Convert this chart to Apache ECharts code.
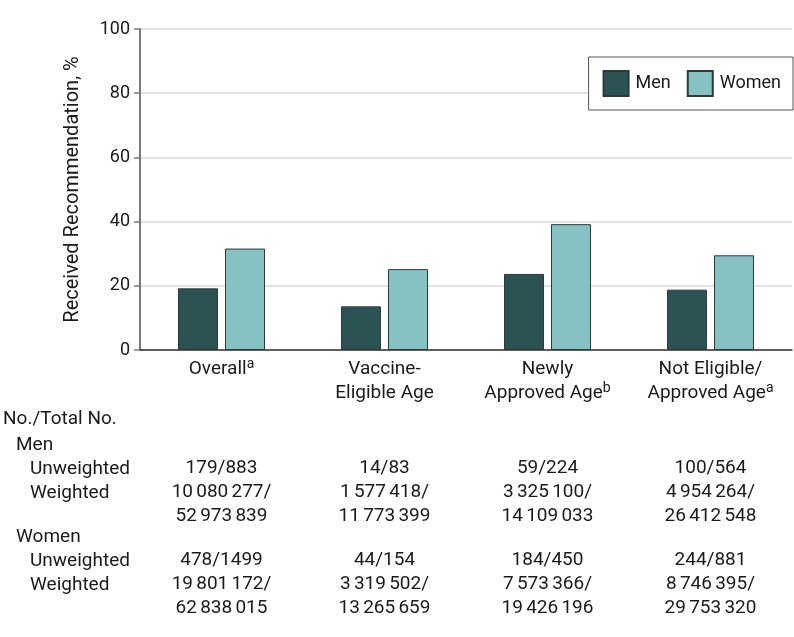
<!DOCTYPE html>
<html>
<head>
<meta charset="utf-8">
<script src="https://cdn.jsdelivr.net/npm/echarts@6/dist/echarts.min.js"></script>
<style>
html,body{margin:0;padding:0;background:#fff;}
#chart{width:794px;height:637px;}
</style>
</head>
<body>
<div id="chart"></div>
<script>
// ---- data ----
var catLine1 = ['Overall', 'Vaccine-', 'Newly', 'Not Eligible/'];
var catLine2 = ['', 'Eligible Age', 'Approved Age', 'Approved Age'];
var catNote = ['a', '', 'b', 'a'];
var seriesNames = ['Men', 'Women'];
var menValues = [19.2, 13.6, 23.7, 18.8];
var womenValues = [31.6, 25.2, 39.2, 29.5];
var yTicks = [0, 20, 40, 60, 80, 100];
var menUnweighted = ['179/883', '14/83', '59/224', '100/564'];
var menWeighted1 = ['10\u2006080\u2006277/', '1\u2006577\u2006418/', '3\u2006325\u2006100/', '4\u2006954\u2006264/'];
var menWeighted2 = ['52\u2006973\u2006839', '11\u2006773\u2006399', '14\u2006109\u2006033', '26\u2006412\u2006548'];
var womenUnweighted = ['478/1499', '44/154', '184/450', '244/881'];
var womenWeighted1 = ['19\u2006801\u2006172/', '3\u2006319\u2006502/', '7\u2006573\u2006366/', '8\u2006746\u2006395/'];
var womenWeighted2 = ['62\u2006838\u2006015', '13\u2006265\u2006659', '19\u2006426\u2006196', '29\u2006753\u2006320'];
var rowHeaders = ['No./Total No.', 'Men', 'Unweighted', 'Weighted', 'Women', 'Unweighted', 'Weighted'];

var FONT = 'Roboto';
var TXT = '#1a1a1a';
var categories = catLine1.map(function (s, i) { return s + ' ' + catLine2[i]; });

function colLabel(value, i) {
  var l1 = '{c|' + catLine1[i] + '}';
  var l2;
  if (catLine2[i] === '') {
    l1 += catNote[i] ? '{s|' + catNote[i] + '}' : '';
    l2 = '{c| }';
  } else {
    l2 = '{c|' + catLine2[i] + '}' + (catNote[i] ? '{s|' + catNote[i] + '}' : '');
  }
  return [l1, l2, '{g1| }',
    '{v|' + menUnweighted[i] + '}', '{v|' + menWeighted1[i] + '}', '{v|' + menWeighted2[i] + '}',
    '{g2| }',
    '{v|' + womenUnweighted[i] + '}', '{v|' + womenWeighted1[i] + '}', '{v|' + womenWeighted2[i] + '}'
  ].join('\n');
}

var leftText = ['{b| }', '{b| }', '{h0|' + rowHeaders[0] + '}', '{h1|' + rowHeaders[1] + '}',
  '{h2|' + rowHeaders[2] + '}', '{h2|' + rowHeaders[3] + '}', '{gw| }',
  '{h1|' + rowHeaders[4] + '}', '{h2|' + rowHeaders[5] + '}', '{h2|' + rowHeaders[6] + '}'].join('\n');

var chart = echarts.init(document.getElementById('chart'), null, { renderer: 'canvas' });
var barBorder = '#2c3a3a';
var option = {
  animation: false,
  backgroundColor: '#fff',
  textStyle: { fontFamily: FONT },
  grid: { left: 140, right: 2, top: 29, bottom: 287, containLabel: false },
  legend: {
    data: seriesNames,
    right: 1, top: 57,
    orient: 'horizontal',
    padding: [13, 12, 13, 14],
    itemGap: 16,
    itemWidth: 25, itemHeight: 25,
    borderColor: '#555', borderWidth: 1,
    backgroundColor: '#fff',
    icon: 'rect',
    textStyle: { fontFamily: FONT, fontSize: 18, color: TXT, padding: [0, 0, 0, 2] }
  },
  xAxis: {
    type: 'category',
    data: categories,
    axisLine: { lineStyle: { color: '#333', width: 1.5 } },
    axisTick: { show: false },
    axisLabel: {
      interval: 0,
      margin: 7,
      formatter: colLabel,
      rich: {
        c: { fontFamily: FONT, fontSize: 19, lineHeight: 24, color: TXT },
        s: { fontFamily: FONT, fontSize: 14, lineHeight: 15, verticalAlign: 'top', color: TXT },
        g1: { fontSize: 10, lineHeight: 51 },
        g2: { fontSize: 10, lineHeight: 20 },
        v: { fontFamily: FONT, fontSize: 19, lineHeight: 24, color: TXT }
      }
    }
  },
  yAxis: {
    type: 'value',
    min: 0, max: 100, interval: 20,
    name: 'Received Recommendation, %',
    nameLocation: 'middle',
    nameGap: 57,
    nameTextStyle: { fontFamily: FONT, fontSize: 20, color: TXT },
    axisLine: { show: true, lineStyle: { color: '#7a7a7a', width: 2 } },
    axisTick: { show: true, length: 6, lineStyle: { color: '#7a7a7a', width: 1.5 } },
    axisLabel: {
      margin: 10, fontFamily: FONT, fontSize: 18, color: TXT,
      formatter: function (v) { return yTicks.indexOf(v) >= 0 ? String(v) : ''; }
    },
    splitLine: { show: true, lineStyle: { color: '#d9d9d9', width: 1.5 } }
  },
  series: [
    {
      name: seriesNames[0], type: 'bar', data: menValues,
      barWidth: 40, barGap: '17.5%',
      itemStyle: { color: '#2b5354', borderColor: barBorder, borderWidth: 1 }
    },
    {
      name: seriesNames[1], type: 'bar', data: womenValues,
      barWidth: 40,
      itemStyle: { color: '#86c2c1', borderColor: barBorder, borderWidth: 1 }
    }
  ],
  graphic: [{
    type: 'text', left: 3, top: 365,
    style: {
      text: leftText,
      fill: TXT,
      rich: {
        b: { fontSize: 10, lineHeight: 24 },
        gw: { fontSize: 10, lineHeight: 20 },
        h0: { fontFamily: FONT, fontSize: 19, lineHeight: 27, fill: TXT, color: TXT },
        h1: { fontFamily: FONT, fontSize: 19, lineHeight: 24, padding: [0, 0, 0, 13], fill: TXT, color: TXT },
        h2: { fontFamily: FONT, fontSize: 19, lineHeight: 24, padding: [0, 0, 0, 27], fill: TXT, color: TXT }
      }
    }
  }]
};
chart.setOption(option);
</script>
</body>
</html>
